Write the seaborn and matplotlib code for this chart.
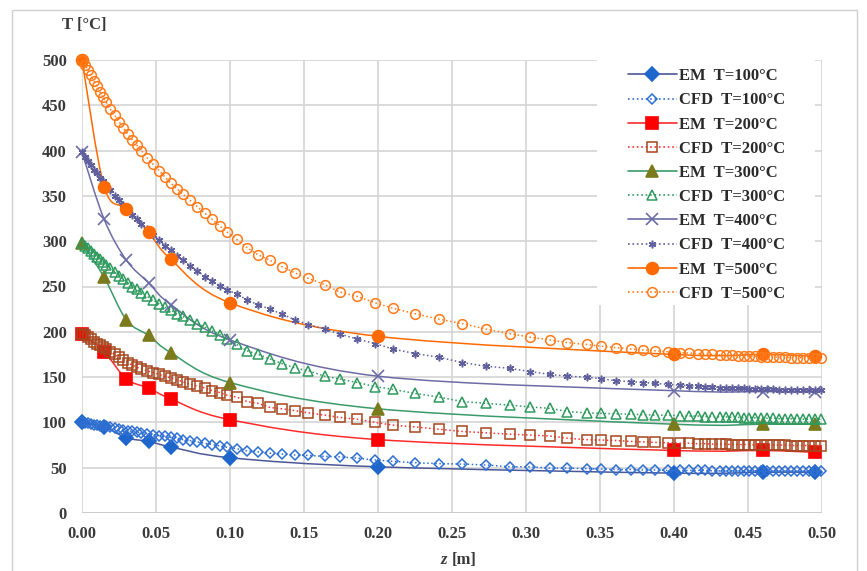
import matplotlib
matplotlib.use("Agg")
import matplotlib.pyplot as plt
import seaborn as sns
from matplotlib.path import Path
from matplotlib.patches import PathPatch, Rectangle
from matplotlib.lines import Line2D

# ---- engineering-model (EM) results ----
z_em = [0.0, 0.015, 0.03, 0.045, 0.06, 0.10, 0.20, 0.40, 0.46, 0.495]
em_100 = [100, 95, 83, 79, 73, 61, 51, 44, 45, 45]
em_200 = [198, 178, 148, 138, 126, 103, 81, 69, 69, 67]
em_300 = [298, 260, 213, 196, 177, 144, 115, 98, 98, 98]
em_400 = [398, 324, 279, 254, 230, 191, 151, 135, 134, 134]
em_500 = [500, 360, 336, 310, 280, 232, 195, 175, 175, 173]

# ---- CFD results on the axial mesh ----
z_cfd = [0.000, 0.002, 0.004, 0.006, 0.008, 0.010, 0.012, 0.014, 0.016, 0.019,
         0.022, 0.025, 0.028, 0.031, 0.034, 0.037, 0.040, 0.044, 0.048, 0.052,
         0.056, 0.060, 0.064, 0.068, 0.073, 0.078, 0.083, 0.088, 0.093, 0.098,
         0.1045, 0.1115, 0.119, 0.127, 0.135, 0.144, 0.153, 0.164, 0.174, 0.186,
         0.198, 0.210, 0.225, 0.241, 0.257, 0.273, 0.289, 0.303, 0.316, 0.328,
         0.341, 0.351, 0.361, 0.371, 0.379, 0.387, 0.396, 0.404, 0.410, 0.416,
         0.421, 0.426, 0.431, 0.435, 0.439, 0.443, 0.447, 0.451, 0.455, 0.459,
         0.463, 0.467, 0.471, 0.475, 0.479, 0.483, 0.487, 0.491, 0.495, 0.499]
cfd_100 = [100, 99.5, 99, 98.5, 97.5, 97, 96.5, 96, 95.5, 94.5,
           93.5, 92.5, 91.5, 91, 90, 89, 88.5, 87.5, 86.5, 85.5,
           84.5, 83.5, 82.5, 81, 80, 78.5, 77, 75.5, 74, 72.5,
           71, 68.5, 67.5, 66, 65, 64, 63.5, 62.5, 62, 60.5,
           58.5, 57, 55.5, 54.5, 54, 53, 51, 51, 49.5, 49.5,
           49, 48.5, 48, 48, 47.5, 47.5, 47, 47, 47, 47,
           47, 46.5, 46.5, 46.5, 46.5, 46.5, 46.5, 46.5, 46.5, 46.5,
           46.5, 46.5, 46.5, 46.5, 46, 46, 46, 46, 46, 46]
cfd_200 = [198, 196, 194, 192, 189, 187, 185, 183, 181, 178,
           175, 172, 169, 166, 163, 161, 159, 157, 155, 153,
           151, 149, 147, 145, 142, 140, 138, 135, 133, 130,
           128, 123, 121, 116.5, 115, 113, 110.5, 108, 105.5, 103.5,
           100, 97, 95, 92.5, 90, 88.5, 87, 86, 85, 82.5,
           81, 80.5, 80, 79, 78.5, 78, 77.5, 77, 77, 76.5,
           76.5, 76, 76, 76, 75.5, 75.5, 75.5, 75.5, 75, 75,
           75, 75, 75, 75, 74.5, 74.5, 74.5, 74.5, 74.5, 74.5]
cfd_300 = [298, 295, 292, 289, 286, 283, 280, 277, 274, 270,
           266, 262, 258, 254, 250, 247, 243, 239, 235, 231,
           227, 224, 220, 217, 213, 209, 205, 201, 197, 192,
           186, 179, 175, 170, 165, 160, 157, 151, 148, 144,
           139.5, 136.5, 132, 128, 123, 121, 119, 117, 115.5, 112,
           110.5, 110, 109.5, 109, 108.5, 108, 108, 107.5, 107, 107,
           106.5, 106.5, 106, 106, 105.5, 105.5, 105, 105, 105, 104.5,
           104.5, 104.5, 104, 104, 104, 104, 103.5, 103.5, 103.5, 103.5]
cfd_400 = [398, 393, 389, 384, 379, 375, 370, 366, 362, 356,
           350, 345, 340, 334, 329, 324, 319, 313, 307, 301,
           295, 290, 284, 279, 273, 267, 261, 256, 251, 246,
           242, 235, 230, 225, 219.6, 213, 208, 203, 197.6, 192,
           187, 181, 176, 172, 166, 162, 159.7, 156, 153, 151,
           150, 148, 146, 145, 144, 143, 142, 141, 140.5, 140,
           139.5, 139, 138.5, 138, 138, 137.5, 137.5, 137, 137, 136.5,
           136.5, 136.5, 136, 136, 136, 136, 136, 135.5, 135.5, 135.5]
cfd_500 = [500, 495, 489, 483, 477, 471, 465, 459, 454, 446,
           439, 432, 425, 418, 412, 406, 400, 392, 385, 378,
           371, 364, 358, 352, 345, 338, 331, 324, 317, 310,
           302, 293, 285, 279, 272, 265, 259, 252, 244, 239,
           232, 226, 220, 214, 209, 203, 198, 194, 191, 188,
           186, 184, 182.5, 181, 180, 179, 178, 177, 176.5, 176,
           175.5, 175, 174.5, 174, 174, 173.5, 173.5, 173, 173, 172.5,
           172.5, 172, 172, 172, 171.5, 171.5, 171.5, 171, 171, 171]

inlet_temps = [100, 200, 300, 400, 500]
em_series = [em_100, em_200, em_300, em_400, em_500]
cfd_series = [cfd_100, cfd_200, cfd_300, cfd_400, cfd_500]

x_ticks = [0.00, 0.05, 0.10, 0.15, 0.20, 0.25, 0.30, 0.35, 0.40, 0.45, 0.50]
y_ticks = [0, 50, 100, 150, 200, 250, 300, 350, 400, 450, 500]

# ---- styles ----
em_style = [
    dict(line="#4b5797", marker="D", face="#1f66cc", edge="#1f66cc", ms=7.5),
    dict(line="#ff2b2b", marker="s", face="#ff0000", edge="#ff0000", ms=8),
    dict(line="#3a9a6a", marker="^", face="#7b7b1e", edge="#7b7b1e", ms=8.5),
    dict(line="#6c6ca6", marker="x", face="#6c6ca6", edge="#6c6ca6", ms=9),
    dict(line="#ff6a00", marker="o", face="#ff6a00", edge="#ff6a00", ms=8.5),
]
cfd_style = [
    dict(line="#2f6fd2", marker="D", edge="#2f6fd2", ms=5.5),
    dict(line="#ff3030", marker="s", edge="#a5461e", ms=7),
    dict(line="#2e9a5e", marker="^", edge="#2e9a5e", ms=7),
    dict(line="#5f5f9e", marker=(6, 2, 0), edge="#5f5f9e", ms=5.5),
    dict(line="#ff7a1a", marker="o", edge="#ff7a1a", ms=7),
]


def smooth_path(xs, ys, k=1.0 / 6.0):
    """Bezier path through the points (Catmull-Rom style tangents)."""
    n = len(xs)
    verts = [(xs[0], ys[0])]
    codes = [Path.MOVETO]
    for i in range(n - 1):
        i0, i3 = max(i - 1, 0), min(i + 2, n - 1)
        c1 = (xs[i] + (xs[i + 1] - xs[i0]) * k, ys[i] + (ys[i + 1] - ys[i0]) * k)
        c2 = (xs[i + 1] - (xs[i3] - xs[i]) * k, ys[i + 1] - (ys[i3] - ys[i]) * k)
        verts += [c1, c2, (xs[i + 1], ys[i + 1])]
        codes += [Path.CURVE4] * 3
    return Path(verts, codes)


sns.set_theme(style="white")
plt.rcParams["font.family"] = ["Liberation Serif", "DejaVu Serif"]
plt.rcParams["font.weight"] = "bold"

W, H = 867, 571
fig = plt.figure(figsize=(W / 100, H / 100), dpi=100)
ax = fig.add_axes([82 / W, 1 - 513 / H, 740 / W, 453 / H])
ax.set_axisbelow(True)

handles, labels = [], []
for t, em, cfd, es, cs in zip(inlet_temps, em_series, cfd_series, em_style, cfd_style):
    # EM: smoothed line plus filled markers
    ax.add_patch(PathPatch(smooth_path(z_em, em), fill=False, edgecolor=es["line"],
                           lw=1.1, zorder=3, clip_on=False))
    sns.lineplot(x=z_em, y=em, ax=ax, color=es["face"], linestyle="none",
                 marker=es["marker"], markersize=es["ms"],
                 markerfacecolor=es["face"], markeredgecolor=es["edge"],
                 markeredgewidth=1.2, sort=False, estimator=None,
                 legend=False, clip_on=False, zorder=4)
    # CFD: dotted line with hollow markers
    sns.lineplot(x=z_cfd, y=cfd, ax=ax, color=cs["line"], linestyle=":", lw=1.1,
                 marker=cs["marker"], markersize=cs["ms"],
                 markerfacecolor="none", markeredgecolor=cs["edge"],
                 markeredgewidth=1.1, sort=False, estimator=None,
                 legend=False, clip_on=False, zorder=4)

    handles.append(Line2D([], [], color=es["line"], lw=1.2, marker=es["marker"],
                          markersize=es["ms"], markerfacecolor=es["face"],
                          markeredgecolor=es["edge"], markeredgewidth=1.2))
    labels.append(f"EM  T={t}°C")
    handles.append(Line2D([], [], color=cs["line"], lw=1.2, ls=":",
                          marker=cs["marker"], markersize=cs["ms"],
                          markerfacecolor="none", markeredgecolor=cs["edge"],
                          markeredgewidth=1.1))
    labels.append(f"CFD  T={t}°C")

ax.set_xlim(0, 0.5)
ax.set_ylim(0, 500)
ax.set_xticks(x_ticks)
ax.set_yticks(y_ticks)
ax.set_xticklabels([f"{v:.2f}" for v in x_ticks])
ax.set_yticklabels([str(v) for v in y_ticks])
ax.tick_params(axis="both", length=0, labelsize=12, colors="#3a3a3a")
ax.tick_params(axis="x", pad=9)
ax.tick_params(axis="y", pad=11)
ax.grid(True, color="#d4d4d4", lw=1.2)
for s in ax.spines.values():
    s.set_visible(False)
ax.axhline(0, color="#c8c8c8", lw=1.2, zorder=0.6)

# white box under the legend hides the grid there
ax.add_patch(Rectangle((0.696, 0.459), 0.294, 0.56, transform=ax.transAxes,
                       facecolor="white", edgecolor="none", zorder=1.5, clip_on=False))
leg = ax.legend(handles, labels, loc="upper left", bbox_to_anchor=(0.727, 1.0),
                frameon=False, borderpad=0, handlelength=2.9, handletextpad=0.15,
                labelspacing=0.49, prop=dict(family="Liberation Serif",
                                             weight="bold", size=12))
for txt in leg.get_texts():
    txt.set_color("#2a2a2a")

# axis titles
fig.text(62 / W, 1 - 25 / H, "T [°C]", fontsize=12, fontweight="bold",
         color="#3a3a3a", ha="left", va="center")
fig.text(447 / W, 1 - 560 / H, "z", fontsize=12, fontweight="bold",
         fontstyle="italic", color="#3a3a3a", ha="right", va="center")
fig.text(452 / W, 1 - 560 / H, "[m]", fontsize=12, fontweight="bold",
         color="#3a3a3a", ha="left", va="center")

# chart-area border
fig.add_artist(Rectangle((12 / W, -0.02), 845 / W, 1 - 10 / H + 0.02,
                         transform=fig.transFigure, fill=False,
                         edgecolor="#d0d0d0", lw=1.0))

fig.savefig("out.png", dpi=100)
